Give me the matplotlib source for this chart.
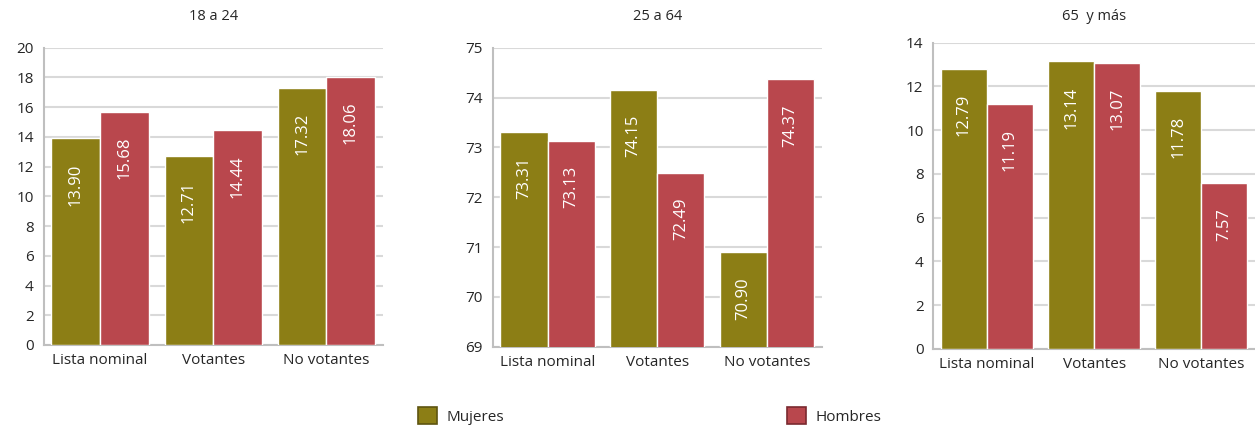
import numpy as np
import matplotlib
matplotlib.use('Agg')
import matplotlib.pyplot as plt
from matplotlib.patches import Patch

plt.rcParams['font.family'] = ['Open Sans', 'DejaVu Sans']

categories = ['Lista nominal', 'Votantes', 'No votantes']
titles = ['18 a 24', '25 a 64', '65  y más']
series_names = ['Mujeres', 'Hombres']

mujeres_18_24 = [13.90, 12.71, 17.32]
hombres_18_24 = [15.68, 14.44, 18.06]
mujeres_25_64 = [73.31, 74.15, 70.90]
hombres_25_64 = [73.13, 72.49, 74.37]
mujeres_65 = [12.79, 13.14, 11.78]
hombres_65 = [11.19, 13.07, 7.57]

ylims = [(0, 20), (69, 75), (0, 14)]
ysteps = [2, 1, 2]

OLIVE = '#8C7E15'
RED = '#B9474D'
GRID = '#D9D9D9'
TEXT = '#262626'

fig = plt.figure(figsize=(12.55, 4.28), dpi=100)

boxes = [
    [0.0347, 0.194, 0.2705, 0.6946],
    [0.3926, 0.190, 0.2622, 0.6986],
    [0.7437, 0.1846, 0.2563, 0.7157],
]
data = [
    (mujeres_18_24, hombres_18_24),
    (mujeres_25_64, hombres_25_64),
    (mujeres_65, hombres_65),
]

x = np.arange(len(categories))
w = 0.43

for box, (muj, hom), title, ylim, step in zip(boxes, data, titles, ylims, ysteps):
    ax = fig.add_axes(box)
    for vals, off, col in ((muj, -w / 2, OLIVE), (hom, w / 2, RED)):
        bars = ax.bar(x + off, vals, width=w, color=col, edgecolor='white',
                      linewidth=1, zorder=3)
        for b, v in zip(bars, vals):
            ax.annotate(f'{v:.2f}', (b.get_x() + b.get_width() / 2, v),
                        xytext=(0, -25), textcoords='offset pixels',
                        rotation=90, ha='center', va='top',
                        color='white', fontsize=12, zorder=4)
    ax.set_xlim(-0.5, 2.5)
    ax.set_ylim(*ylim)
    ax.set_yticks(np.arange(ylim[0], ylim[1] + step / 2, step))
    ax.set_xticks(x)
    ax.set_xticklabels(categories)
    ax.tick_params(length=0, labelsize=11, colors=TEXT)
    ax.tick_params(axis='y', pad=7)
    ax.tick_params(axis='x', pad=6)
    ax.yaxis.grid(True, color=GRID, linewidth=1.5, zorder=0)
    ax.set_axisbelow(True)
    for s in ('top', 'right'):
        ax.spines[s].set_visible(False)
    for s in ('left', 'bottom'):
        ax.spines[s].set_color('#BFBFBF')
        ax.spines[s].set_linewidth(1.5)
    # panel title at a fixed height like the reference (y ~ 15 px from top)
    fig.text(box[0] + box[2] / 2, 1 - 16 / 428, title,
             ha='center', va='center', fontsize=10.5, color=TEXT)

for name, col, edge, xpos in ((series_names[0], OLIVE, '#5E5410', 418),
                               (series_names[1], RED, '#7A2A30', 787)):
    fig.legend(handles=[Patch(facecolor=col, edgecolor=edge, linewidth=1.2)],
               labels=[name], loc='center left',
               bbox_to_anchor=(xpos / 1255, 1 - 416 / 428),
               frameon=False, borderpad=0, borderaxespad=0,
               handlelength=1.25, handleheight=1.25, handletextpad=0.6,
               fontsize=11, labelcolor=TEXT)

fig.savefig('out.png', dpi=100)
